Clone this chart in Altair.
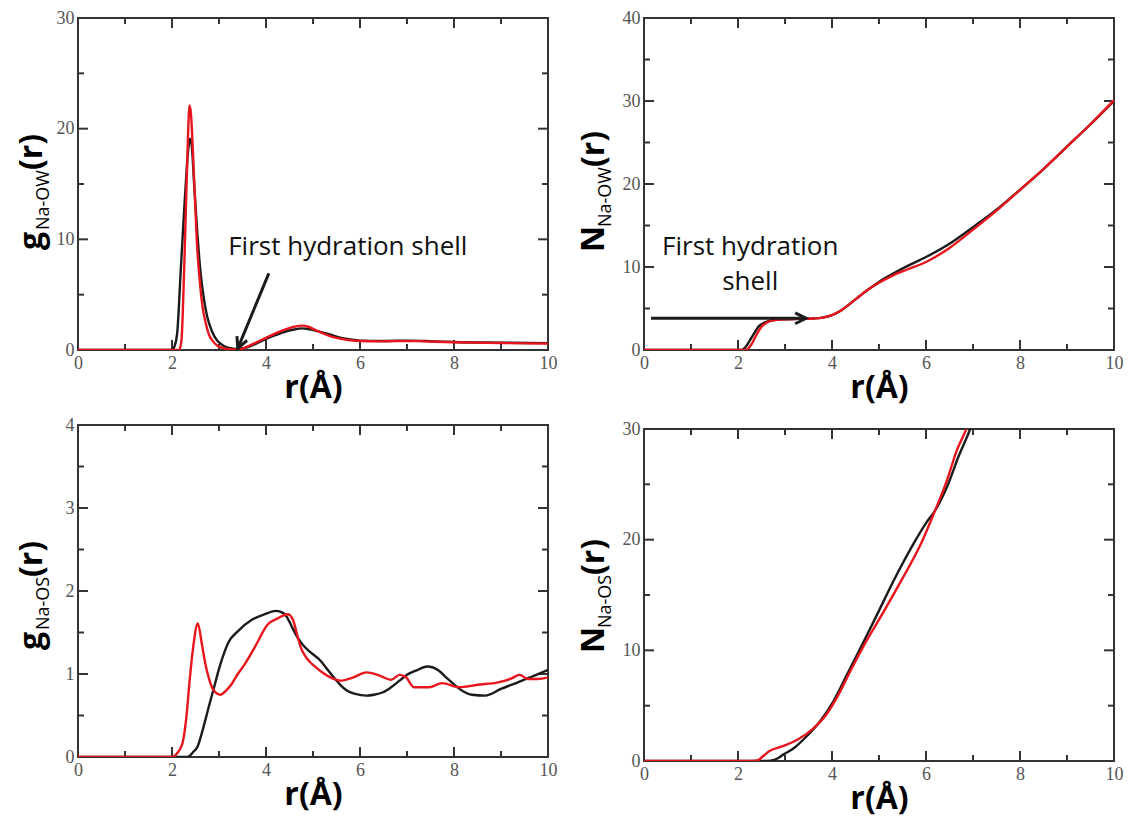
import altair as alt
import pandas as pd

# ---------------- data ----------------
# Top-left: g Na-OW(r)
gow_black_r = [0, 2.0, 2.05, 2.11, 2.19, 2.25, 2.3, 2.35, 2.39, 2.43, 2.47, 2.54, 2.61, 2.68, 2.75, 2.85, 2.96, 3.07, 3.17, 3.3, 3.4, 3.5, 3.65, 3.8, 4.0, 4.2, 4.4, 4.6, 4.75, 4.9, 5.1, 5.36, 5.6, 5.8, 6.0, 6.5, 7.0, 7.5, 8.0, 9.0, 10.0]
gow_black_g = [0, 0, 0.3, 1.5, 7.5, 12, 15.5, 18.3, 19.1, 18, 15, 10.5, 6.9, 4.6, 3.0, 1.7, 0.85, 0.45, 0.24, 0.12, 0.1, 0.15, 0.3, 0.6, 1.0, 1.35, 1.65, 1.85, 1.95, 1.9, 1.7, 1.4, 1.1, 0.95, 0.85, 0.82, 0.85, 0.8, 0.72, 0.66, 0.62]
gow_red_r = [0, 2.15, 2.2, 2.26, 2.32, 2.35, 2.37, 2.4, 2.46, 2.54, 2.6, 2.65, 2.72, 2.78, 2.87, 2.96, 3.07, 3.17, 3.37, 3.5, 3.65, 3.8, 4.0, 4.2, 4.4, 4.6, 4.76, 4.9, 5.1, 5.36, 5.6, 5.8, 6.0, 6.4, 6.76, 7.2, 7.6, 8.0, 9.0, 10.0]
gow_red_g = [0, 0, 0.8, 7.5, 16.5, 20.5, 22.1, 21.5, 16.5, 9, 5.8, 3.9, 2.4, 1.45, 0.8, 0.4, 0.2, 0.1, 0.03, 0.12, 0.4, 0.7, 1.1, 1.5, 1.85, 2.1, 2.2, 2.1, 1.7, 1.26, 1.0, 0.88, 0.81, 0.78, 0.8, 0.8, 0.75, 0.7, 0.63, 0.58]

# Top-right: N Na-OW(r)
now_black_r = [0, 2.05, 2.15, 2.3, 2.45, 2.6, 2.8, 3.0, 3.3, 3.6, 3.8, 4.0, 4.2, 4.5, 4.8, 5.0, 5.3, 5.6, 6.0, 6.5, 7.0, 7.5, 8.0, 8.5, 9.0, 9.5, 10.0]
now_black_n = [0, 0, 0.3, 1.6, 2.9, 3.4, 3.65, 3.7, 3.75, 3.8, 3.9, 4.2, 4.8, 6.1, 7.4, 8.2, 9.2, 10.1, 11.2, 12.8, 14.8, 16.9, 19.3, 21.8, 24.5, 27.2, 30.0]
now_red_r = [0, 2.17, 2.3, 2.4, 2.5, 2.64, 2.8, 3.0, 3.3, 3.6, 3.8, 4.0, 4.2, 4.5, 4.8, 5.0, 5.3, 5.6, 6.0, 6.5, 7.0, 7.5, 8.0, 8.5, 9.0, 9.5, 10.0]
now_red_n = [0, 0, 0.8, 1.9, 2.8, 3.4, 3.6, 3.7, 3.75, 3.8, 3.9, 4.2, 4.8, 6.1, 7.4, 8.1, 9.0, 9.7, 10.6, 12.3, 14.5, 16.8, 19.3, 21.8, 24.5, 27.2, 30.1]

# Bottom-left: g Na-OS(r)
gos_black_r = [0, 2.33, 2.45, 2.54, 2.65, 2.78, 2.9, 2.99, 3.1, 3.2, 3.41, 3.69, 3.97, 4.22, 4.35, 4.43, 4.55, 4.67, 4.8, 4.95, 5.16, 5.3, 5.44, 5.58, 5.72, 5.9, 6.14, 6.3, 6.49, 6.66, 6.84, 7.0, 7.19, 7.43, 7.68, 7.85, 8.03, 8.2, 8.38, 8.66, 9.0, 9.36, 9.71, 10.0]
gos_black_g = [0, 0, 0.06, 0.12, 0.32, 0.6, 0.85, 1.04, 1.24, 1.38, 1.52, 1.65, 1.72, 1.76, 1.74, 1.7, 1.57, 1.44, 1.34, 1.26, 1.16, 1.06, 0.96, 0.87, 0.8, 0.76, 0.74, 0.75, 0.78, 0.84, 0.92, 0.99, 1.04, 1.09, 1.04, 0.95, 0.86, 0.79, 0.75, 0.74, 0.82, 0.9, 0.98, 1.05]
gos_red_r = [0, 2.0, 2.1, 2.22, 2.3, 2.38, 2.45, 2.55, 2.63, 2.71, 2.8, 2.89, 3.03, 3.15, 3.27, 3.4, 3.55, 3.76, 4.04, 4.25, 4.46, 4.57, 4.65, 4.74, 4.88, 5.02, 5.3, 5.58, 5.86, 6.14, 6.42, 6.66, 6.84, 6.98, 7.15, 7.47, 7.75, 8.1, 8.5, 8.94, 9.2, 9.4, 9.57, 9.78, 10.0]
gos_red_g = [0, 0, 0.04, 0.16, 0.45, 0.95, 1.32, 1.61, 1.38, 1.12, 0.92, 0.8, 0.75, 0.8, 0.88, 1.0, 1.12, 1.32, 1.6, 1.67, 1.72, 1.66, 1.5, 1.32, 1.18, 1.1, 0.98, 0.92, 0.96, 1.02, 0.98, 0.93, 0.99, 0.96, 0.84, 0.84, 0.89, 0.84, 0.87, 0.9, 0.94, 0.99, 0.94, 0.94, 0.96]

# Bottom-right: N Na-OS(r)
nos_black_r = [0, 2.6, 2.8, 2.97, 3.2, 3.43, 3.73, 4.03, 4.33, 4.63, 4.99, 5.3, 5.73, 6.0, 6.19, 6.45, 6.7, 6.94, 7.1]
nos_black_n = [0, 0, 0.15, 0.6, 1.2, 2.1, 3.5, 5.4, 7.9, 10.4, 13.5, 16.2, 19.6, 21.5, 22.6, 24.8, 27.6, 30.0, 32.0]
nos_red_r = [0, 2.22, 2.41, 2.55, 2.67, 2.97, 3.28, 3.58, 3.88, 4.1, 4.4, 4.7, 5.1, 5.5, 5.89, 6.19, 6.45, 6.65, 6.86, 7.0]
nos_red_n = [0, 0, 0.05, 0.5, 0.9, 1.36, 1.96, 2.86, 4.2, 5.7, 8.2, 10.6, 13.5, 16.5, 19.6, 22.6, 25.4, 28.0, 30.0, 31.5]

# axis ticks
x_major = [0, 2, 4, 6, 8, 10]
x_minor = [1, 3, 5, 7, 9]
gow_y_major = [0, 10, 20, 30]
gow_y_minor = [5, 15, 25]
now_y_major = [0, 10, 20, 30, 40]
now_y_minor = [5, 15, 25, 35]
gos_y_major = [0, 1, 2, 3, 4]
gos_y_minor = [0.5, 1.5, 2.5, 3.5]
nos_y_major = [0, 10, 20, 30]
nos_y_minor = [5, 15, 25]

# annotations (data units)
tl_arrow = {"r": [4.06], "y": [6.93], "r2": [3.40], "y2": [0.15]}
tl_note = {"r": [5.74], "y": [9.3], "text": ["First hydration shell"]}
tr_arrow = {"r": [0.15], "y": [3.82], "r2": [3.45], "y2": [3.82]}
tr_note = {"r": [2.26, 2.26], "y": [12.4, 8.2], "text": ["First hydration", "shell"]}

# ---------------- styling ----------------
W, H = 470, 332
RED = "#e8151d"
BLACK = "#1b1b1b"
TITLE_FONT = "Open Sans"
LABEL_FONT = "Liberation Serif"
TICK_COLOR = "#333333"
MAJOR_LEN, MINOR_LEN = 10, 6
CHEVRON = "M-2,-1L0,0L-2,1"
BIG, SUB = 32, 18


def series_df(black_r, black_v, red_r, red_v):
    rows = [{"r": a, "y": b, "series": "black"} for a, b in zip(black_r, black_v)]
    rows += [{"r": a, "y": b, "series": "red"} for a, b in zip(red_r, red_v)]
    return pd.DataFrame(rows)


def x_enc(field="r"):
    return alt.X(f"{field}:Q", scale=alt.Scale(domain=[0, 10], nice=False, zero=False),
                 axis=alt.Axis(values=x_major, title="r(Å)", titlePadding=0))


def y_enc(ymax, ymajor, field="y"):
    return alt.Y(f"{field}:Q", scale=alt.Scale(domain=[0, ymax], nice=False, zero=False),
                 axis=alt.Axis(values=ymajor, title=None))


def tick_layers(ymax, ymajor, yminor):
    layers = []
    for vals, ln in ((x_major, MAJOR_LEN), (x_minor, MINOR_LEN)):
        d = pd.DataFrame({"r": vals})
        for ypos in (H - ln / 2, ln / 2):
            layers.append(alt.Chart(d).mark_tick(color=TICK_COLOR, thickness=2, size=ln,
                                                 orient="vertical", opacity=1).encode(
                x=x_enc(), y=alt.value(ypos)))
    for vals, ln in ((ymajor, MAJOR_LEN), (yminor, MINOR_LEN)):
        d = pd.DataFrame({"y": vals})
        for xpos in (ln / 2, W - ln / 2):
            layers.append(alt.Chart(d).mark_tick(color=TICK_COLOR, thickness=2, size=ln,
                                                 orient="horizontal", opacity=1).encode(
                y=y_enc(ymax, ymajor), x=alt.value(xpos)))
    return layers


def y_title(big1, sub, bottom, big_x, sub_x, w_big1, w_sub):
    one = pd.DataFrame({"k": [0]})
    common = dict(angle=270, align="left", baseline="alphabetic", color="black")
    t1 = alt.Chart(one).mark_text(font=TITLE_FONT, fontSize=BIG, fontWeight="bold", **common).encode(
        x=alt.value(big_x), y=alt.value(bottom), text=alt.value(big1))
    t2 = alt.Chart(one).mark_text(font=TITLE_FONT, fontSize=SUB, fontWeight="normal", **common).encode(
        x=alt.value(sub_x), y=alt.value(bottom - w_big1), text=alt.value(sub))
    t3 = alt.Chart(one).mark_text(font=TITLE_FONT, fontSize=BIG, fontWeight="bold", **common).encode(
        x=alt.value(big_x), y=alt.value(bottom - w_big1 - w_sub), text=alt.value("(r)"))
    return [t1, t2, t3]


def arrow(spec, ymax, ymajor, angle):
    d = pd.DataFrame(spec)
    shaft = alt.Chart(d).mark_rule(color=BLACK, strokeWidth=3).encode(
        x=x_enc(), y=y_enc(ymax, ymajor), x2="r2:Q", y2="y2:Q")
    head = alt.Chart(d).mark_point(shape=CHEVRON, filled=False, size=120, strokeWidth=3,
                                   color=BLACK, opacity=1, angle=angle).encode(
        x=x_enc("r2"), y=y_enc(ymax, ymajor, "y2"))
    return [shaft, head]


def note(spec, ymax, ymajor):
    d = pd.DataFrame(spec)
    return alt.Chart(d).mark_text(font=TITLE_FONT, fontSize=26, color="#111111",
                                  align="center", baseline="middle").encode(
        x=x_enc(), y=y_enc(ymax, ymajor), text="text:N")


def panel(df, ymax, ymajor, yminor, extra, title_layers):
    lines = alt.Chart(df).mark_line(strokeWidth=2.4, clip=True, interpolate="monotone").encode(
        x=x_enc(), y=y_enc(ymax, ymajor),
        color=alt.Color("series:N", scale=alt.Scale(domain=["black", "red"], range=[BLACK, RED]),
                        legend=None),
        detail="series:N")
    layers = tick_layers(ymax, ymajor, yminor) + [lines] + extra + title_layers
    return alt.layer(*layers).properties(width=W, height=H)


tl = panel(series_df(gow_black_r, gow_black_g, gow_red_r, gow_red_g), 30, gow_y_major, gow_y_minor,
           arrow(tl_arrow, 30, gow_y_major, 112.5) + [note(tl_note, 30, gow_y_major)],
           y_title("g", "Na-OW", 232, -36, -29, 20, 60))
tr = panel(series_df(now_black_r, now_black_n, now_red_r, now_red_n), 40, now_y_major, now_y_minor,
           arrow(tr_arrow, 40, now_y_major, 0) + [note(tr_note, 40, now_y_major)],
           y_title("N", "Na-OW", 234, -40, -33, 25, 60))
bl = panel(series_df(gos_black_r, gos_black_g, gos_red_r, gos_red_g), 4, gos_y_major, gos_y_minor,
           [], y_title("g", "Na-OS", 225, -36, -29, 20, 53))
br = panel(series_df(nos_black_r, nos_black_n, nos_red_r, nos_red_n), 30, nos_y_major, nos_y_minor,
           [], y_title("N", "Na-OS", 224, -40, -33, 25, 53))

left = alt.vconcat(tl, bl, spacing=11)
right = alt.vconcat(tr, br, spacing=15)

chart = alt.hconcat(left, right, spacing=19).properties(
    padding={"left": 7, "top": 0, "right": 0, "bottom": 3}
).configure_view(
    stroke="#333333", strokeWidth=2
).configure_axis(
    labelFont=LABEL_FONT, labelFontSize=18, labelColor="#555555", labelPadding=4,
    labelFlush=False, labelOverlap=False, ticks=False, domain=False, grid=False,
    titleFont=TITLE_FONT, titleFontSize=BIG, titleFontWeight="bold", titleColor="black"
)

chart.save("out.html", embed_options={"renderer": "svg", "actions": False})
